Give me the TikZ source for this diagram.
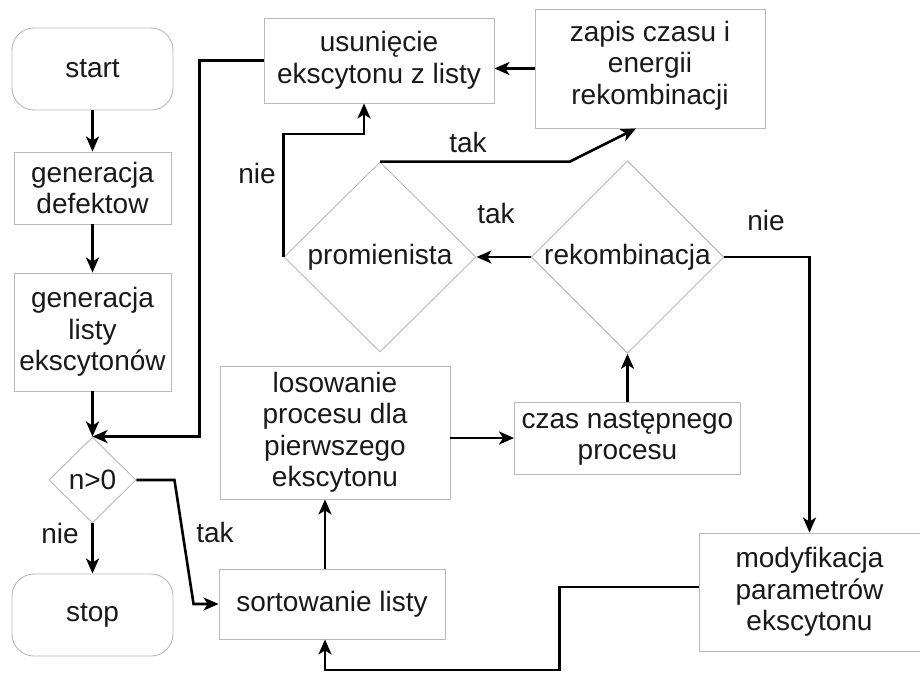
\documentclass[tikz,border=0pt]{standalone}
\usepackage{fontspec}
\setmainfont{Liberation Sans}
\usepackage{tikz}
\usetikzlibrary{shapes.geometric, arrows.meta, positioning, calc}
\definecolor{framegray}{RGB}{185, 185, 185}
\definecolor{flowtext}{RGB}{25, 25, 25}

\tikzset{
    procbox/.style={draw=framegray, line width=0.9pt, fill=white, text=flowtext, align=center,
                    inner sep=0pt, font=\fontsize{28}{31.5}\selectfont},
    termbox/.style={procbox, rounded corners=22pt},
    decbox/.style={procbox, diamond, aspect=1},
    flow/.style={line width=2.6pt, -{Stealth[length=15pt, width=13pt, inset=4pt]}},
    answer/.style={anchor=base, text=flowtext, font=\fontsize{28}{31.5}\selectfont}
}

\begin{document}
\begin{tikzpicture}[x=1pt, y=-1pt]
    \useasboundingbox (0,0) rectangle (920,672);

    \node[termbox, minimum width=161pt, minimum height=82pt] (start) at (92.5,69) {start};
    \node[procbox, minimum width=157pt, minimum height=72pt] (defekt) at (92.5,188) {generacja\\defektow};
    \node[procbox, minimum width=157pt, minimum height=118pt] (lista) at (92.5,332) {generacja\\listy\\ekscytonów};
    \node[decbox, minimum width=87pt, minimum height=86pt] (test) at (92.5,480) {n>0};
    \node[termbox, minimum width=161pt, minimum height=82pt] (stop) at (92.5,615) {stop};

    \node[procbox, minimum width=230pt, minimum height=85pt] (usun) at (379,60.5) {usunięcie\\ekscytonu z listy};
    \node[procbox, minimum width=230pt, minimum height=119pt, text depth=12pt] (zapis) at (650,68.5) {zapis czasu i\\energii\\rekombinacji};
    \node[decbox, minimum width=192pt, minimum height=190pt] (prom) at (380,257) {promienista};
    \node[decbox, minimum width=190pt, minimum height=190pt] (rekomb) at (627.5,257) {rekombinacja};

    \node[procbox, minimum width=230pt, minimum height=133pt] (losow) at (335,432.5) {losowanie\\procesu dla\\pierwszego\\ekscytonu};
    \node[procbox, minimum width=226pt, minimum height=72pt] (czas) at (627.5,438) {czas następnego\\procesu};
    \node[procbox, minimum width=226pt, minimum height=70pt] (sort) at (332,604) {sortowanie listy};
    \node[procbox, minimum width=221pt, minimum height=118pt] (modyf) at (809.5,592) {modyfikacja\\parametrów\\ekscytonu};

    \draw[flow] (start) -- (defekt);
    \draw[flow] (defekt) -- (lista);
    \draw[flow] (lista) -- (test);
    \draw[flow] (test) -- (stop);
    \draw[flow] (usun.west) -- ++(-64,0) |- (test.north);
    \draw[flow] (test.east) -- ++(38,0) -- ([xshift=-25pt]sort.west) -- (sort.west);
    \draw[flow] ([xshift=-7pt]sort.north) -- ([xshift=-7pt]sort.north |- losow.south);
    \draw[flow] (czas.west -| losow.east) -- (czas.west);
    \draw[flow] (czas) -- (rekomb);
    \draw[flow] (rekomb) -- (prom);
    \draw[flow] (rekomb.east) -| (modyf.north);
    \draw[flow] ([yshift=5pt]modyf.west) -- ++(-139,0) -- ++(0,83) -| ([xshift=-7pt]sort.south);
    \draw[flow] (prom.west) -- ++(0,-123) -| ([xshift=-15pt]usun.south);
    \draw[flow] (prom.north) -- ++(190,0) -- ([xshift=-14pt]zapis.south);
    \draw[flow] (zapis.west) -- (zapis.west -| usun.east);

    \node[answer] (nieprom) at (257,183) {nie};
    \node[answer] (takprom) at (468,152) {tak};
    \node[answer] (takrek) at (496,223) {tak};
    \node[answer] (nierek) at (766,230) {nie};
    \node[answer] (taktest) at (215,542) {tak};
    \node[answer] (nietest) at (60,543) {nie};
\end{tikzpicture}
\end{document}
